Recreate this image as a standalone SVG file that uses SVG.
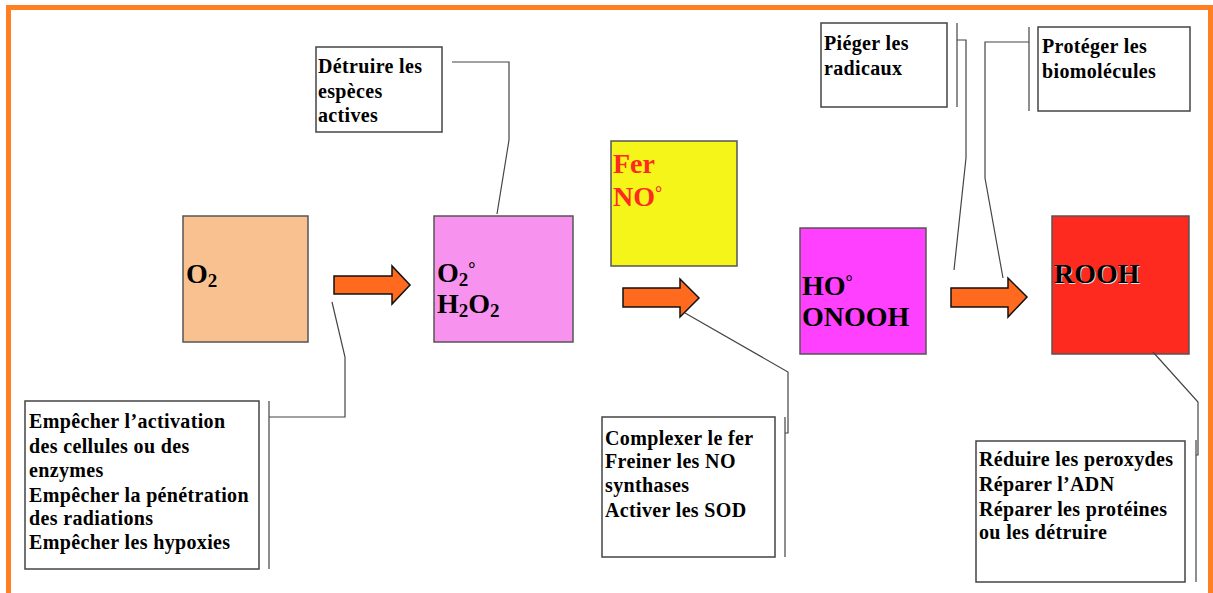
<svg xmlns="http://www.w3.org/2000/svg" width="1213" height="593" viewBox="0 0 1213 593">
<style>
.box{stroke:#555;stroke-width:1.5}
.lbl{fill:#fff;stroke:#444;stroke-width:1.5}
.t{font-family:"Liberation Serif","Times New Roman",serif;font-weight:bold;font-size:20px;letter-spacing:0.35px;fill:#000}
.sp{font-family:"Liberation Serif","Times New Roman",serif;font-weight:bold;font-size:28px;fill:#000}
.red{fill:#FF2A1F}
.sub{font-size:19px}
.deg{font-size:18px}
.arrow{fill:#FF6A1E;stroke:#111;stroke-width:1.5;stroke-linejoin:miter}
.con{fill:none;stroke:#444;stroke-width:1.2}
</style>
<rect x="8.5" y="7.5" width="1202" height="610" fill="#fff" stroke="#FF8022" stroke-width="5"/>

<g id="o2">
<rect class="box" x="183" y="216" width="125" height="126" fill="#F9C190"/>
<text class="sp" x="186" y="283">O<tspan class="sub" dy="4">2</tspan></text>
</g>

<g id="h2o2">
<rect class="box" x="434" y="216" width="139" height="126" fill="#F792EE"/>
<text class="sp" x="437" y="282">O<tspan class="sub" dy="4">2</tspan><tspan class="deg" dy="-11">°</tspan></text>
<text class="sp" x="437" y="313">H<tspan class="sub" dy="4">2</tspan><tspan dy="-4">O</tspan><tspan class="sub" dy="4">2</tspan></text>
</g>

<g id="fer">
<rect class="box" x="611" y="141" width="126" height="125" fill="#F5F51A"/>
<text class="sp red" x="613" y="173">Fer</text>
<text class="sp red" x="613" y="206">NO<tspan class="deg" dy="-7">°</tspan></text>
</g>

<g id="ho">
<rect class="box" x="800" y="228" width="126" height="126" fill="#FF40FF"/>
<text class="sp" x="802" y="295">HO<tspan class="deg" dy="-7">°</tspan></text>
<text class="sp" x="802" y="326">ONOOH</text>
</g>

<g id="rooh">
<rect class="box" x="1052" y="216" width="137" height="138" fill="#FF2A1F"/>
<text class="sp" x="1055" y="284" style="fill:#ddd">ROOH</text>
<text class="sp" x="1054" y="283">ROOH</text>
</g>

<g id="detruire">
<rect class="lbl" x="316" y="47" width="126" height="85"/>
<text class="t" x="318" y="73">Détruire les</text>
<text class="t" x="318" y="98">espèces</text>
<text class="t" x="318" y="122">actives</text>
</g>

<g id="empecher">
<rect class="lbl" x="25" y="401" width="234" height="168"/>
<text class="t" x="29" y="428">Empêcher l’activation</text>
<text class="t" x="29" y="453">des cellules ou des</text>
<text class="t" x="29" y="477">enzymes</text>
<text class="t" x="29" y="502">Empêcher la pénétration</text>
<text class="t" x="29" y="525">des radiations</text>
<text class="t" x="29" y="549">Empêcher les hypoxies</text>
</g>

<g id="complexer">
<rect class="lbl" x="602" y="417" width="173" height="140"/>
<text class="t" x="605" y="445">Complexer le fer</text>
<text class="t" x="605" y="468">Freiner les NO</text>
<text class="t" x="605" y="492">synthases</text>
<text class="t" x="605" y="517">Activer les SOD</text>
</g>

<g id="pieger">
<rect class="lbl" x="821" y="23" width="126" height="84"/>
<text class="t" x="824" y="50">Piéger les</text>
<text class="t" x="824" y="75">radicaux</text>
</g>

<g id="proteger">
<rect class="lbl" x="1038" y="27" width="152" height="84"/>
<text class="t" x="1042" y="53">Protéger les</text>
<text class="t" x="1042" y="78">biomolécules</text>
</g>

<g id="reduire">
<rect class="lbl" x="976" y="441" width="209" height="141"/>
<text class="t" x="979" y="466">Réduire les peroxydes</text>
<text class="t" x="979" y="491">Réparer l’ADN</text>
<text class="t" x="979" y="516">Réparer les protéines</text>
<text class="t" x="979" y="539">ou les détruire</text>
</g>

<g id="connectors">
<polygon class="arrow" points="334,276 392,276 392,266 410,285 392,304 392,294 334,294"/>
<polygon class="arrow" points="623,288 680,288 680,279 699,298 680,317 680,307 623,307"/>
<polygon class="arrow" points="951,288 1008,288 1008,278 1027,297 1008,317 1008,307 951,307"/>
<polyline class="con" points="452,62 509,62 509,140 497,214"/>
<polyline class="con" points="332,302 345,357 345,417 269,417"/>
<line class="con" x1="269" y1="401" x2="269" y2="569"/>
<polyline class="con" points="685,313 788,372 788,433 785,433"/>
<line class="con" x1="785" y1="417" x2="785" y2="557"/>
<line class="con" x1="957" y1="23" x2="957" y2="107"/>
<polyline class="con" points="957,40 966,40 966,158 954,270"/>
<line class="con" x1="1029" y1="27" x2="1029" y2="111"/>
<polyline class="con" points="1029,42 985,42 985,178 1003,278"/>
<polyline class="con" points="1153,352 1198,402 1198,455 1196,455"/>
<line class="con" x1="1196" y1="440" x2="1196" y2="582"/>
</g>
</svg>
